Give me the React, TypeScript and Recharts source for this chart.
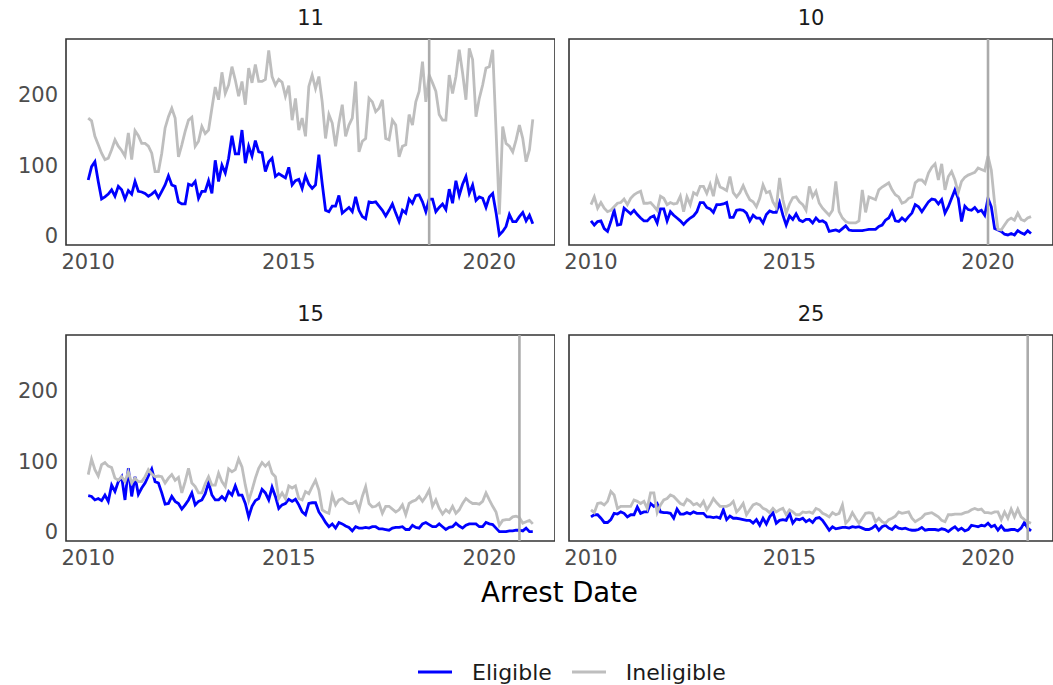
import React from 'react'
import { LineChart, Line, XAxis, YAxis, ReferenceLine, ReferenceArea } from 'recharts'

// Monthly arrest counts by district, Jan 2010 – Feb 2021
const START_YEAR = 2010
const MONTH_COUNT = 134

const eligible11 = [
  79, 98, 105, 77, 52, 55, 59, 65, 56, 70,
  65, 52, 64, 59, 77, 63, 62, 60, 56, 59,
  63, 54, 63, 72, 85, 72, 70, 48, 45, 45,
  73, 71, 77, 53, 63, 63, 78, 60, 107, 77,
  100, 89, 110, 142, 116, 116, 150, 103, 127, 113,
  135, 119, 118, 91, 105, 110, 84, 88, 85, 82,
  97, 72, 78, 80, 67, 85, 73, 67, 72, 115,
  74, 36, 34, 42, 42, 57, 32, 36, 40, 34,
  55, 36, 27, 24, 48, 47, 48, 42, 36, 28,
  36, 45, 32, 20, 36, 32, 52, 46, 57, 58,
  48, 34, 52, 52, 34, 40, 45, 37, 66, 46,
  78, 57, 73, 84, 60, 72, 50, 55, 53, 40,
  55, 60, 33, 1, 6, 13, 30, 20, 20, 27,
  33, 21, 29, 17,
]
const ineligible11 = [
  167, 163, 141, 129, 117, 108, 110, 122, 136, 127,
  121, 113, 146, 108, 149, 142, 131, 131, 127, 117,
  91, 91, 117, 153, 169, 181, 167, 112, 129, 148,
  164, 168, 127, 134, 155, 145, 150, 181, 211, 193,
  232, 202, 214, 240, 221, 198, 219, 186, 238, 217,
  243, 219, 219, 222, 263, 226, 214, 222, 218, 198,
  213, 164, 195, 150, 167, 141, 212, 228, 209, 226,
  190, 138, 172, 160, 127, 160, 186, 141, 157, 167,
  219, 119, 134, 138, 195, 190, 176, 181, 193, 138,
  136, 164, 157, 112, 127, 129, 172, 157, 190, 205,
  247, 190, 228, 217, 205, 172, 164, 164, 228, 202,
  226, 264, 231, 193, 266, 250, 169, 195, 214, 238,
  240, 264, 150, 30, 155, 131, 127, 119, 136, 157,
  138, 105, 122, 165,
]
const eligible10 = [
  21, 15, 20, 21, 10, 6, 20, 36, 15, 16,
  39, 35, 31, 36, 30, 25, 21, 21, 26, 28,
  18, 38, 38, 21, 34, 29, 25, 21, 16, 21,
  25, 28, 34, 47, 47, 40, 38, 33, 44, 44,
  45, 47, 26, 26, 36, 37, 36, 32, 21, 29,
  25, 25, 18, 30, 35, 33, 33, 47, 29, 15,
  28, 23, 31, 22, 20, 23, 23, 18, 25, 20,
  21, 18, 6, 7, 8, 6, 10, 14, 8, 7,
  7, 7, 7, 8, 9, 9, 9, 13, 15, 22,
  25, 34, 21, 20, 25, 21, 27, 32, 44, 41,
  34, 41, 48, 52, 51, 45, 51, 32, 41, 53,
  65, 53, 20, 42, 37, 36, 40, 34, 36, 29,
  53, 41, 10, 8, 6, 2, 1, 3, 1, 7,
  4, 2, 7, 3,
]
const ineligible10 = [
  44, 55, 39, 47, 39, 34, 36, 41, 46, 47,
  52, 44, 53, 58, 61, 63, 46, 46, 47, 42,
  36, 56, 53, 44, 47, 45, 46, 56, 34, 55,
  44, 61, 58, 70, 70, 60, 73, 56, 82, 69,
  67, 64, 84, 61, 55, 61, 71, 60, 51, 48,
  41, 53, 72, 61, 63, 48, 40, 82, 51, 32,
  45, 54, 55, 48, 44, 36, 70, 55, 63, 46,
  39, 34, 29, 36, 77, 34, 25, 20, 18, 18,
  18, 21, 65, 33, 55, 53, 51, 65, 69, 72,
  75, 65, 58, 55, 46, 48, 53, 55, 75, 79,
  79, 74, 89, 97, 102, 79, 102, 65, 84, 91,
  79, 61, 77, 83, 86, 88, 90, 96, 94, 92,
  113, 93, 46, 9, 8, 15, 22, 25, 22, 32,
  23, 21, 25, 27,
]
const eligible15 = [
  51, 50, 45, 47, 44, 52, 43, 66, 57, 71,
  78, 45, 90, 50, 78, 53, 62, 69, 79, 89,
  71, 69, 55, 39, 40, 50, 43, 40, 32, 38,
  45, 55, 38, 43, 45, 54, 70, 52, 45, 45,
  50, 45, 57, 52, 65, 52, 52, 40, 21, 36,
  44, 47, 60, 55, 45, 63, 50, 33, 38, 40,
  46, 43, 46, 38, 28, 24, 40, 41, 41, 28,
  21, 13, 7, 11, 5, 13, 11, 8, 6, 1,
  7, 5, 5, 6, 5, 7, 7, 4, 4, 3,
  2, 5, 6, 6, 7, 3, 3, 9, 6, 5,
  11, 13, 10, 7, 7, 11, 7, 3, 6, 7,
  12, 8, 5, 9, 11, 11, 11, 7, 7, 13,
  11, 10, 5, 0, 0, 0, 1, 1, 2, 2,
  1, 5, 0, 0,
]
const ineligible15 = [
  81, 103, 88, 79, 95, 98, 93, 91, 76, 73,
  78, 71, 85, 69, 76, 71, 71, 78, 88, 82,
  78, 79, 78, 69, 76, 81, 73, 77, 55, 71,
  90, 69, 64, 55, 55, 68, 78, 66, 66, 83,
  71, 64, 89, 85, 88, 103, 92, 66, 44, 59,
  76, 90, 98, 93, 98, 83, 78, 47, 55, 47,
  65, 62, 65, 47, 45, 57, 54, 64, 73, 59,
  31, 28, 26, 52, 38, 45, 47, 43, 40, 40,
  43, 31, 50, 64, 40, 35, 36, 40, 26, 36,
  36, 32, 28, 31, 38, 24, 40, 43, 45, 50,
  43, 50, 59, 36, 45, 33, 25, 31, 27, 36,
  26, 31, 40, 47, 43, 40, 40, 39, 43, 55,
  45, 36, 28, 9, 16, 17, 17, 21, 22, 20,
  12, 14, 16, 11,
]
const eligible25 = [
  21, 24, 24, 19, 13, 13, 17, 26, 25, 28,
  26, 21, 24, 24, 35, 26, 28, 28, 40, 36,
  40, 28, 27, 27, 26, 19, 32, 25, 25, 27,
  25, 28, 26, 26, 26, 21, 21, 20, 21, 19,
  31, 17, 22, 19, 19, 18, 17, 16, 16, 12,
  17, 9, 19, 11, 21, 27, 12, 16, 17, 16,
  26, 12, 18, 17, 19, 14, 17, 13, 19, 20,
  16, 9, 2, 7, 4, 5, 6, 6, 5, 7,
  6, 7, 5, 3, 3, 5, 9, 2, 7, 9,
  5, 3, 8, 5, 4, 5, 3, 2, 2, 3,
  6, 2, 3, 3, 3, 2, 4, 3, 0, 4,
  7, 2, 5, 1, 3, 9, 8, 7, 9, 8,
  12, 7, 9, 2, 8, 2, 2, 3, 3, 1,
  5, 13, 5, 1,
]
const ineligible25 = [
  31, 27, 40, 41, 38, 43, 57, 52, 33, 36,
  36, 36, 36, 45, 43, 40, 43, 33, 55, 55,
  27, 38, 45, 47, 52, 50, 45, 40, 38, 46,
  43, 38, 40, 36, 43, 31, 38, 47, 41, 36,
  36, 36, 38, 43, 28, 33, 40, 24, 31, 38,
  40, 38, 33, 31, 27, 33, 28, 31, 33, 24,
  31, 28, 24, 24, 28, 27, 28, 26, 33, 31,
  26, 24, 21, 27, 24, 26, 38, 12, 17, 27,
  19, 12, 19, 26, 27, 26, 14, 19, 14, 12,
  17, 19, 22, 28, 26, 27, 28, 19, 14, 17,
  20, 25, 26, 27, 24, 21, 16, 14, 24, 24,
  25, 25, 25, 27, 28, 31, 33, 31, 32, 27,
  27, 26, 28, 28, 17, 28, 19, 32, 21, 32,
  21, 17, 14, 12,
]

// date the policy change took effect in each district
const cutoffs = [2018.5, 2020.0, 2020.75, 2021.0]
const districts = ['11', '10', '15', '25']
const xTicks = [2010, 2015, 2020]
const yTicks = [0, 100, 200]

const months = Array.from({ length: MONTH_COUNT }, (_, i) => START_YEAR + i / 12)
const X_DOMAIN: [number, number] = [2009.446, 2021.637]
const Y_DOMAIN: [number, number] = [-13.3, 279.3]

const ELIGIBLE_COLOR = '#0000ff'
const INELIGIBLE_COLOR = '#bebebe'
const LINE_WIDTH = 2.8
const FONT = '"DejaVu Sans", Verdana, sans-serif'

const buildRows = (eligible: number[], ineligible: number[]) =>
  months.map((t, i) => ({ t, eligible: eligible[i], ineligible: ineligible[i] }))

const panels = [
  { title: districts[0], rows: buildRows(eligible11, ineligible11), cutoff: cutoffs[0], col: 0, row: 0 },
  { title: districts[1], rows: buildRows(eligible10, ineligible10), cutoff: cutoffs[1], col: 1, row: 0 },
  { title: districts[2], rows: buildRows(eligible15, ineligible15), cutoff: cutoffs[2], col: 0, row: 1 },
  { title: districts[3], rows: buildRows(eligible25, ineligible25), cutoff: cutoffs[3], col: 1, row: 1 },
]

const tickStyle = { fontSize: 21, fill: '#4d4d4d', fontFamily: FONT }

interface PanelProps {
  title: string
  rows: { t: number; eligible: number; ineligible: number }[]
  cutoff: number
  col: number
  row: number
}

const Panel: React.FC<PanelProps> = ({ title, rows, cutoff, col, row }) => {
  const left = col === 0 ? 0 : 560
  const width = col === 0 ? 555 : 493
  const top = row === 0 ? 0 : 296
  const plotLeft = col === 0 ? 66 : 9
  const plotWidth = col === 0 ? 489 : 484

  return (
    <div style={{ position: 'absolute', left, top, width, height: 280 }}>
      <div
        style={{
          position: 'absolute',
          left: plotLeft,
          width: plotWidth,
          top: 5,
          textAlign: 'center',
          fontSize: 21,
          lineHeight: '26px',
          color: '#1a1a1a',
        }}
      >
        {title}
      </div>
      <LineChart width={width} height={280} data={rows} margin={{ top: 39, right: 0, bottom: 0, left: col === 0 ? 0 : 9 }}>
        <XAxis
          type="number"
          dataKey="t"
          domain={X_DOMAIN}
          ticks={xTicks}
          allowDataOverflow
          axisLine={false}
          tickLine={false}
          tickSize={0}
          tickMargin={9}
          height={35}
          tick={tickStyle}
        />
        <YAxis
          type="number"
          domain={Y_DOMAIN}
          ticks={yTicks}
          allowDataOverflow
          axisLine={false}
          tickLine={false}
          tickSize={0}
          tickMargin={8}
          width={66}
          hide={col !== 0}
          tick={tickStyle}
        />
        <Line
          type="linear"
          dataKey="eligible"
          stroke={ELIGIBLE_COLOR}
          strokeWidth={LINE_WIDTH}
          dot={false}
          isAnimationActive={false}
        />
        <Line
          type="linear"
          dataKey="ineligible"
          stroke={INELIGIBLE_COLOR}
          strokeWidth={LINE_WIDTH}
          dot={false}
          isAnimationActive={false}
        />
        <ReferenceLine x={cutoff} stroke="#ababab" strokeWidth={2.6} />
        <ReferenceArea
          x1={X_DOMAIN[0]}
          x2={X_DOMAIN[1]}
          y1={Y_DOMAIN[0]}
          y2={Y_DOMAIN[1]}
          fill="none"
          stroke="#333333"
          strokeWidth={1.6}
          ifOverflow="visible"
        />
      </LineChart>
    </div>
  )
}

const LegendKey: React.FC<{ color: string; label: string }> = ({ color, label }) => (
  <div style={{ display: 'flex', alignItems: 'center' }}>
    <svg width={34} height={10} style={{ marginRight: 20 }}>
      <line x1={0} x2={34} y1={5} y2={5} stroke={color} strokeWidth={LINE_WIDTH} />
    </svg>
    <span>{label}</span>
  </div>
)

export default function App() {
  return (
    <div
      style={{
        position: 'absolute',
        left: 0,
        top: 0,
        width: 1053,
        height: 685,
        background: '#ffffff',
        fontFamily: FONT,
        overflow: 'hidden',
      }}
    >
      {panels.map((p) => (
        <Panel key={p.title} {...p} />
      ))}
      <div
        style={{
          position: 'absolute',
          left: 66,
          width: 987,
          top: 575,
          textAlign: 'center',
          fontSize: 27.5,
          lineHeight: '34px',
          color: '#000000',
        }}
      >
        Arrest Date
      </div>
      <div
        style={{
          position: 'absolute',
          left: 418,
          top: 657,
          height: 30,
          display: 'flex',
          alignItems: 'center',
          gap: 20,
          fontSize: 22,
          color: '#1a1a1a',
        }}
      >
        <LegendKey color={ELIGIBLE_COLOR} label="Eligible" />
        <LegendKey color={INELIGIBLE_COLOR} label="Ineligible" />
      </div>
    </div>
  )
}
